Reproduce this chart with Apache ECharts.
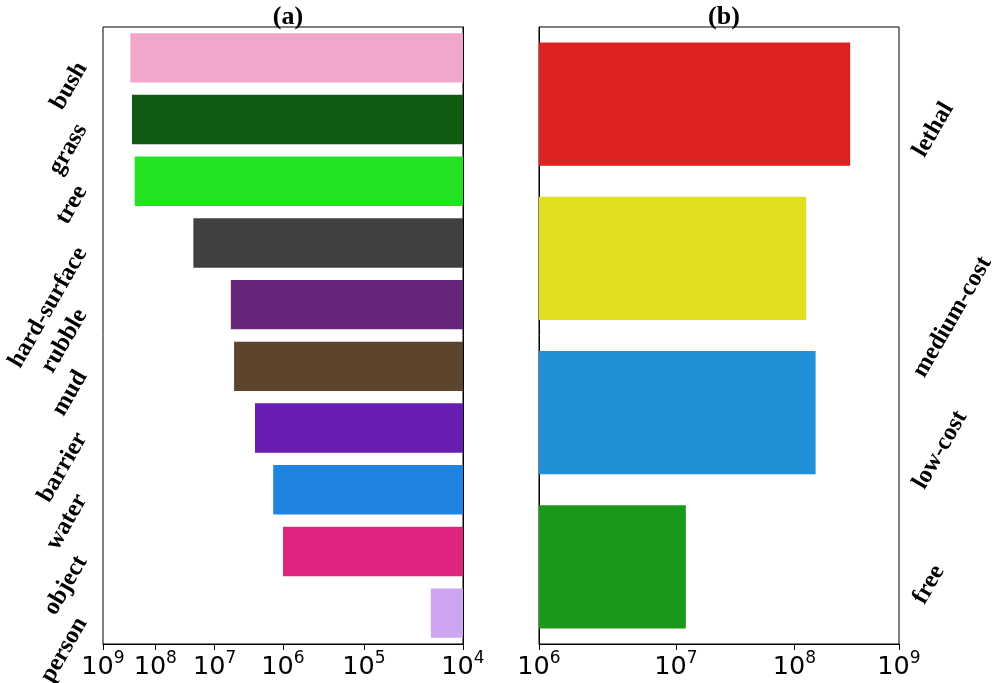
<!DOCTYPE html>
<html><head><meta charset="utf-8">
<script src="https://cdn.jsdelivr.net/npm/echarts@6/dist/echarts.min.js"></script>
<style>html,body{margin:0;padding:0;background:#fff}#c{width:997px;height:683px}</style>
</head><body><div id="c"></div>
<script>
// ---- data ----
const terrainCategories = ['bush','grass','tree','hard-surface','rubble','mud','barrier','water','object','person'];
const terrainValues = [2.9e8, 2.7e8, 2.4e8, 2.2e7, 5.6e6, 5.0e6, 2.46e6, 1.36e6, 1.0e6, 2.0e4];
const costCategories = ['lethal','medium-cost','low-cost','free'];
const costValues = [3.3e8, 1.28e8, 1.56e8, 1.2e7];
const terrainTickExponents = [4,5,6,7,8,9];
const costTickExponents = [6,7,8,9];

// ---- styles ----
const terrainColors = ['#f1a7cc','#105a12','#22e222','#404040','#672679','#5c442d','#671cb2','#2183e0','#e0237e','#cda5f0'];
const costColors = ['#de2222','#e0e020','#2290d6','#1a9a1a'];
const catFontSize = 24.5;
const catFont = 'bold ' + catFontSize + 'px "Liberation Serif"';

// log-of-exponent scale: position proportional to ln(log10(v)/baseExp)
const tf = (v, baseExp) => Math.log(Math.log10(v) / baseExp);
const tfExp = (e, baseExp) => Math.log(e / baseExp);

const ctx = document.createElement('canvas').getContext('2d');
function measure(t){ ctx.font = catFont; return ctx.measureText(t).width; }

const tickRich = {
  b: {fontFamily: 'DejaVu Sans', fontSize: 25.5, color: '#000', lineHeight: 30, verticalAlign: 'bottom'},
  s: {fontFamily: 'DejaVu Sans', fontSize: 17, color: '#000', verticalAlign: 'top', lineHeight: 30}
};
function powFmt(base){ return v => '{b|10}{s|' + Math.round(base * Math.exp(v)) + '}'; }

const axisLineStyle = {show: true, lineStyle: {color: '#000', width: 1}};
const titleStyle = {fontFamily: 'Liberation Serif', fontWeight: 'bold', fontSize: 26, color: '#000'};
const chart = echarts.init(document.getElementById('c'), null, {renderer: 'canvas'});
chart.setOption({
  animation: false,
  backgroundColor: '#fff',
  title: [
    {text: '(a)', left: 283, top: -1, textAlign: 'center', textStyle: titleStyle},
    {text: '(b)', left: 719, top: -1, textAlign: 'center', textStyle: titleStyle}
  ],
  grid: [
    {left: 103, right: 534, top: 27, bottom: 39, show: true, borderColor: '#000', borderWidth: 1, backgroundColor: 'transparent', containLabel: false, outerBoundsMode: 'none'},
    {left: 539, right: 98, top: 27, bottom: 39, show: true, borderColor: '#000', borderWidth: 1, backgroundColor: 'transparent', containLabel: false, outerBoundsMode: 'none'}
  ],
  xAxis: [
    {type: 'value', gridIndex: 0, min: 0, max: tfExp(9, 4), inverse: true,
     axisLine: axisLineStyle, splitLine: {show: false},
     axisTick: {show: true, length: 6, lineStyle: {color: '#000'}, customValues: terrainTickExponents.map(e => tfExp(e, 4))},
     axisLabel: {show: true, margin: 6, customValues: terrainTickExponents.map(e => tfExp(e, 4)), formatter: powFmt(4), rich: tickRich, hideOverlap: false}},
    {type: 'value', gridIndex: 1, min: 0, max: tfExp(9, 6),
     axisLine: axisLineStyle, splitLine: {show: false},
     axisTick: {show: true, length: 6, lineStyle: {color: '#000'}, customValues: costTickExponents.map(e => tfExp(e, 6))},
     axisLabel: {show: true, margin: 6, customValues: costTickExponents.map(e => tfExp(e, 6)), formatter: powFmt(6), rich: tickRich, hideOverlap: false}}
  ],
  yAxis: [
    {type: 'category', gridIndex: 0, data: terrainCategories, inverse: true,
     axisLine: axisLineStyle,
     axisTick: {show: true, alignWithLabel: true, length: 6, lineStyle: {color: '#000'}},
     axisLabel: {show: true, interval: 0, rotate: 60, margin: 32, align: 'right', verticalAlign: 'top',
                 fontFamily: 'Liberation Serif', fontWeight: 'bold', fontSize: catFontSize, color: '#000'}},
    {type: 'category', gridIndex: 1, data: costCategories, inverse: true, position: 'right',
     axisLine: axisLineStyle,
     axisTick: {show: true, alignWithLabel: true, length: 6, lineStyle: {color: '#000'}},
     axisLabel: {show: false}}
  ],
  series: [
    {type: 'bar', xAxisIndex: 0, yAxisIndex: 0, barCategoryGap: '20%',
     data: terrainValues.map((v, i) => ({value: tf(v, 4), itemStyle: {color: terrainColors[i]}}))},
    {type: 'bar', xAxisIndex: 1, yAxisIndex: 1, barCategoryGap: '20%',
     data: costValues.map((v, i) => ({value: tf(v, 6), itemStyle: {color: costColors[i]}}))},
    {type: 'custom', xAxisIndex: 1, yAxisIndex: 1, silent: true, clip: false,
     data: costCategories.map((c, i) => [0, i]),
     encode: {x: 0, y: 1},
     renderItem: function(params, api){
       const idx = api.value(1);
       const pt = api.coord([0, idx]);
       const cs = params.coordSys;
       const name = costCategories[idx];
       const w = measure(name);
       return {type: 'text', x: cs.x + cs.width + 9, y: pt[1] - 6 + 0.866 * w, rotation: Math.PI / 3,
               style: {text: name, font: catFont, fill: '#000', align: 'left', verticalAlign: 'top'}};
     }}
  ]
});
</script></body></html>
